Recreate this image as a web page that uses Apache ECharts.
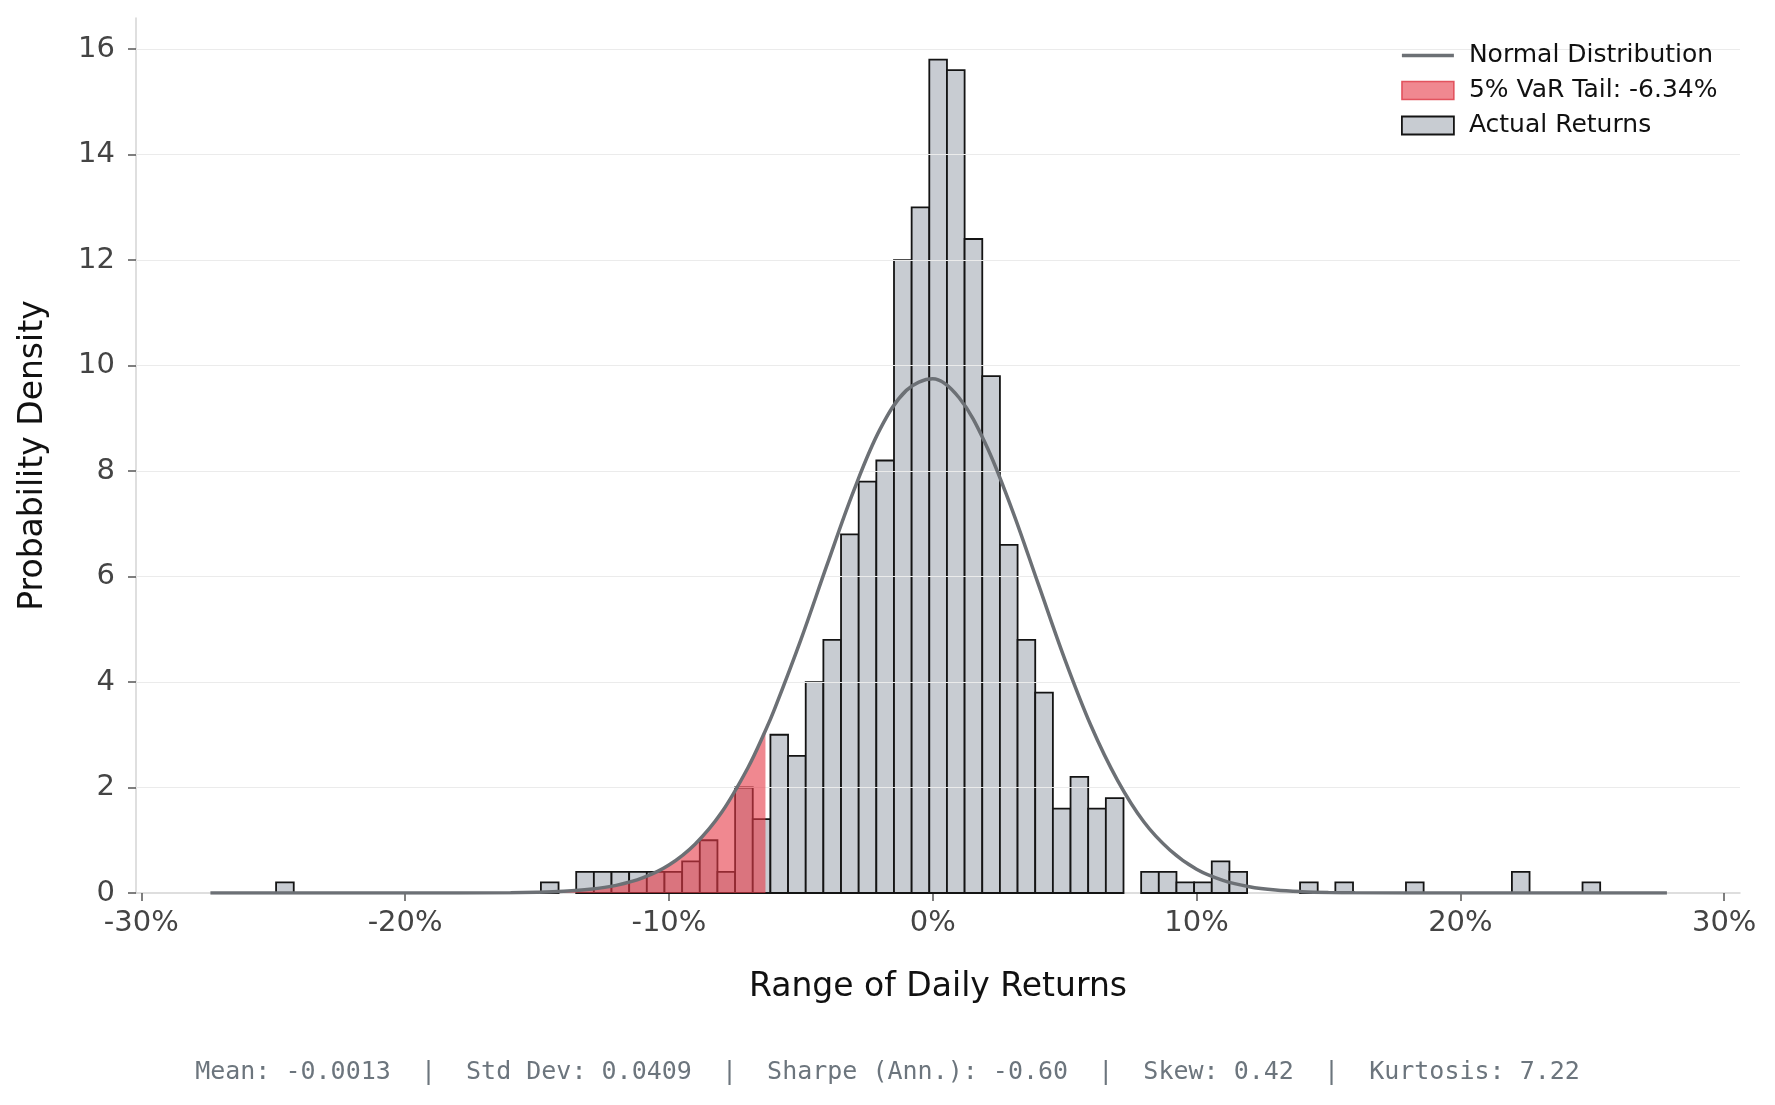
<!DOCTYPE html>
<html>
<head>
<meta charset="utf-8">
<title>Daily Return Distribution</title>
<script src="https://cdn.jsdelivr.net/npm/echarts@6/dist/echarts.min.js"></script>
<style>
  html, body { margin: 0; padding: 0; background: #fff; }
  #main { width: 1775px; height: 1105px; }
</style>
</head>
<body>
<div id="main"></div>
<script>
// histogram: 75 equal-width bins, density
var binStart = -0.2489;
var binWidth = 0.006692;
var densities = [
  0.2, 0, 0, 0, 0, 0, 0, 0, 0, 0,
  0, 0, 0, 0, 0, 0.2, 0, 0.4, 0.4, 0.4,
  0.4, 0.4, 0.4, 0.6, 1.0, 0.4, 2.0, 1.4, 3.0, 2.6,
  4.0, 4.8, 6.8, 7.8, 8.2, 12.0, 13.0, 15.8, 15.6, 12.4,
  9.8, 6.6, 4.8, 3.8, 1.6, 2.2, 1.6, 1.8, 0, 0.4,
  0.4, 0.2, 0.2, 0.6, 0.4, 0, 0, 0, 0.2, 0,
  0.2, 0, 0, 0, 0.2, 0, 0, 0, 0, 0,
  0.4, 0, 0, 0, 0.2
];

// fitted normal curve
var curveX = [-0.2738, -0.20, -0.16, -0.15, -0.14, -0.13, -0.12, -0.11, -0.10, -0.09,
  -0.08, -0.07, -0.0634, -0.06, -0.05, -0.04, -0.03, -0.02, -0.01, 0.0,
  0.01, 0.02, 0.03, 0.04, 0.05, 0.06, 0.07, 0.08, 0.09, 0.10,
  0.11, 0.12, 0.13, 0.14, 0.15, 0.16, 0.20, 0.2783];
var curveY = [0, 0, 0.005, 0.013, 0.031, 0.069, 0.145, 0.285, 0.53, 0.93,
  1.53, 2.38, 3.08, 3.48, 4.80, 6.23, 7.62, 8.79, 9.53, 9.75,
  9.39, 8.52, 7.28, 5.86, 4.44, 3.17, 2.14, 1.35, 0.81, 0.45,
  0.24, 0.12, 0.056, 0.025, 0.010, 0.004, 0, 0];

var varCut = -0.0634;
var varLabel = '5% VaR Tail: -6.34%';

var xTicks = [-0.3, -0.2, -0.1, 0, 0.1, 0.2, 0.3];
var yTicks = [0, 2, 4, 6, 8, 10, 12, 14, 16];

var statMean = '-0.0013';
var statStd = '0.0409';
var statSharpe = '-0.60';
var statSkew = '0.42';
var statKurt = '7.22';

var font = 'DejaVu Sans';
var barFill = '#c8ccd2';
var barEdge = '#141414';
var curveColor = '#6c7075';
var tailFill = 'rgba(230,57,70,0.6)';

var bins = [];
densities.forEach(function (d, i) {
  if (d > 0) {
    bins.push([binStart + i * binWidth, binStart + (i + 1) * binWidth, d]);
  }
});

var curveData = curveX.map(function (x, i) { return [x, curveY[i]]; });
var tailData = curveData.filter(function (p) { return p[0] <= varCut; });

var statsText = 'Mean: ' + statMean + '  |  Std Dev: ' + statStd +
  '  |  Sharpe (Ann.): ' + statSharpe + '  |  Skew: ' + statSkew +
  '  |  Kurtosis: ' + statKurt;

var myChart = echarts.init(document.getElementById('main'));

var option = {
  animation: false,
  backgroundColor: '#ffffff',
  textStyle: { fontFamily: font },
  grid: { left: 136, right: 35, top: 18, bottom: 212, containLabel: false, outerBoundsMode: 'none' },
  legend: {
    orient: 'vertical',
    left: 1396,
    top: 38,
    z: 20,
    backgroundColor: 'rgba(255,255,255,0)',
    itemWidth: 52,
    itemHeight: 18,
    itemGap: 10,
    textStyle: { fontSize: 25, color: '#111', fontFamily: font, padding: [0, 0, 0, 10] },
    data: [
      { name: 'Normal Distribution', icon: 'path://M0,0 L52,0 L52,3.5 L0,3.5 Z',
        itemStyle: { color: curveColor } },
      { name: varLabel, icon: 'rect',
        itemStyle: { color: tailFill, borderColor: 'rgba(220,55,68,0.8)', borderWidth: 1.5 } },
      { name: 'Actual Returns', icon: 'rect',
        itemStyle: { color: barFill, borderColor: barEdge, borderWidth: 1.8 } }
    ]
  },
  xAxis: {
    type: 'value',
    min: -0.302,
    max: 0.306,
    name: 'Range of Daily Returns',
    nameLocation: 'middle',
    nameGap: 78,
    nameTextStyle: { fontSize: 33, color: '#111', fontFamily: font },
    axisLine: { onZero: false, lineStyle: { color: '#d4d4d4', width: 1.5 } },
    axisTick: { show: true, length: 8, customValues: xTicks, lineStyle: { color: '#555', width: 1.5 } },
    axisLabel: {
      customValues: xTicks,
      fontSize: 29,
      color: '#444',
      margin: 16,
      fontFamily: font,
      formatter: function (v) { return Math.round(v * 100) + '%'; }
    },
    splitLine: { show: false }
  },
  yAxis: {
    type: 'value',
    min: 0,
    max: 16.59,
    name: 'Probability Density',
    nameLocation: 'middle',
    nameGap: 86,
    nameTextStyle: { fontSize: 33, color: '#111', fontFamily: font },
    axisLine: { show: true, onZero: false, lineStyle: { color: '#d4d4d4', width: 1.5 } },
    axisTick: { show: true, length: 8, customValues: yTicks, lineStyle: { color: '#555', width: 1.5 } },
    axisLabel: { customValues: yTicks, fontSize: 29, color: '#444', margin: 21, fontFamily: font },
    splitLine: { show: false }
  },
  series: [
    {
      name: 'Actual Returns',
      type: 'custom',
      z: 2,
      itemStyle: { color: barFill, borderColor: barEdge, borderWidth: 1.8 },
      encode: { x: [0, 1], y: 2 },
      data: bins,
      renderItem: function (params, api) {
        var p0 = api.coord([api.value(0), 0]);
        var p1 = api.coord([api.value(1), api.value(2)]);
        return {
          type: 'rect',
          shape: { x: p0[0], y: p1[1], width: p1[0] - p0[0], height: p0[1] - p1[1] },
          style: { fill: barFill, stroke: barEdge, lineWidth: 1.8 }
        };
      },
      markLine: {
        silent: true,
        symbol: ['none', 'none'],
        label: { show: false },
        z: 5,
        lineStyle: { color: '#ebebeb', width: 1.2, type: 'solid' },
        data: yTicks.filter(function (v) { return v > 0; }).map(function (v) { return { yAxis: v }; })
      }
    },
    {
      name: varLabel,
      type: 'line',
      z: 6,
      data: tailData,
      smooth: 0.35,
      symbol: 'none',
      lineStyle: { width: 0, color: tailFill },
      itemStyle: { color: tailFill },
      areaStyle: { color: tailFill, opacity: 1 }
    },
    {
      name: 'Normal Distribution',
      type: 'line',
      z: 7,
      data: curveData,
      smooth: 0.35,
      symbol: 'none',
      lineStyle: { color: curveColor, width: 3.5 },
      itemStyle: { color: curveColor }
    }
  ],
  graphic: [
    {
      type: 'text',
      left: 'center',
      top: 1060,
      style: {
        text: statsText,
        fontSize: 25,
        fontFamily: 'DejaVu Sans Mono',
        fill: '#6c757d'
      }
    }
  ]
};

myChart.setOption(option);
</script>
</body>
</html>
